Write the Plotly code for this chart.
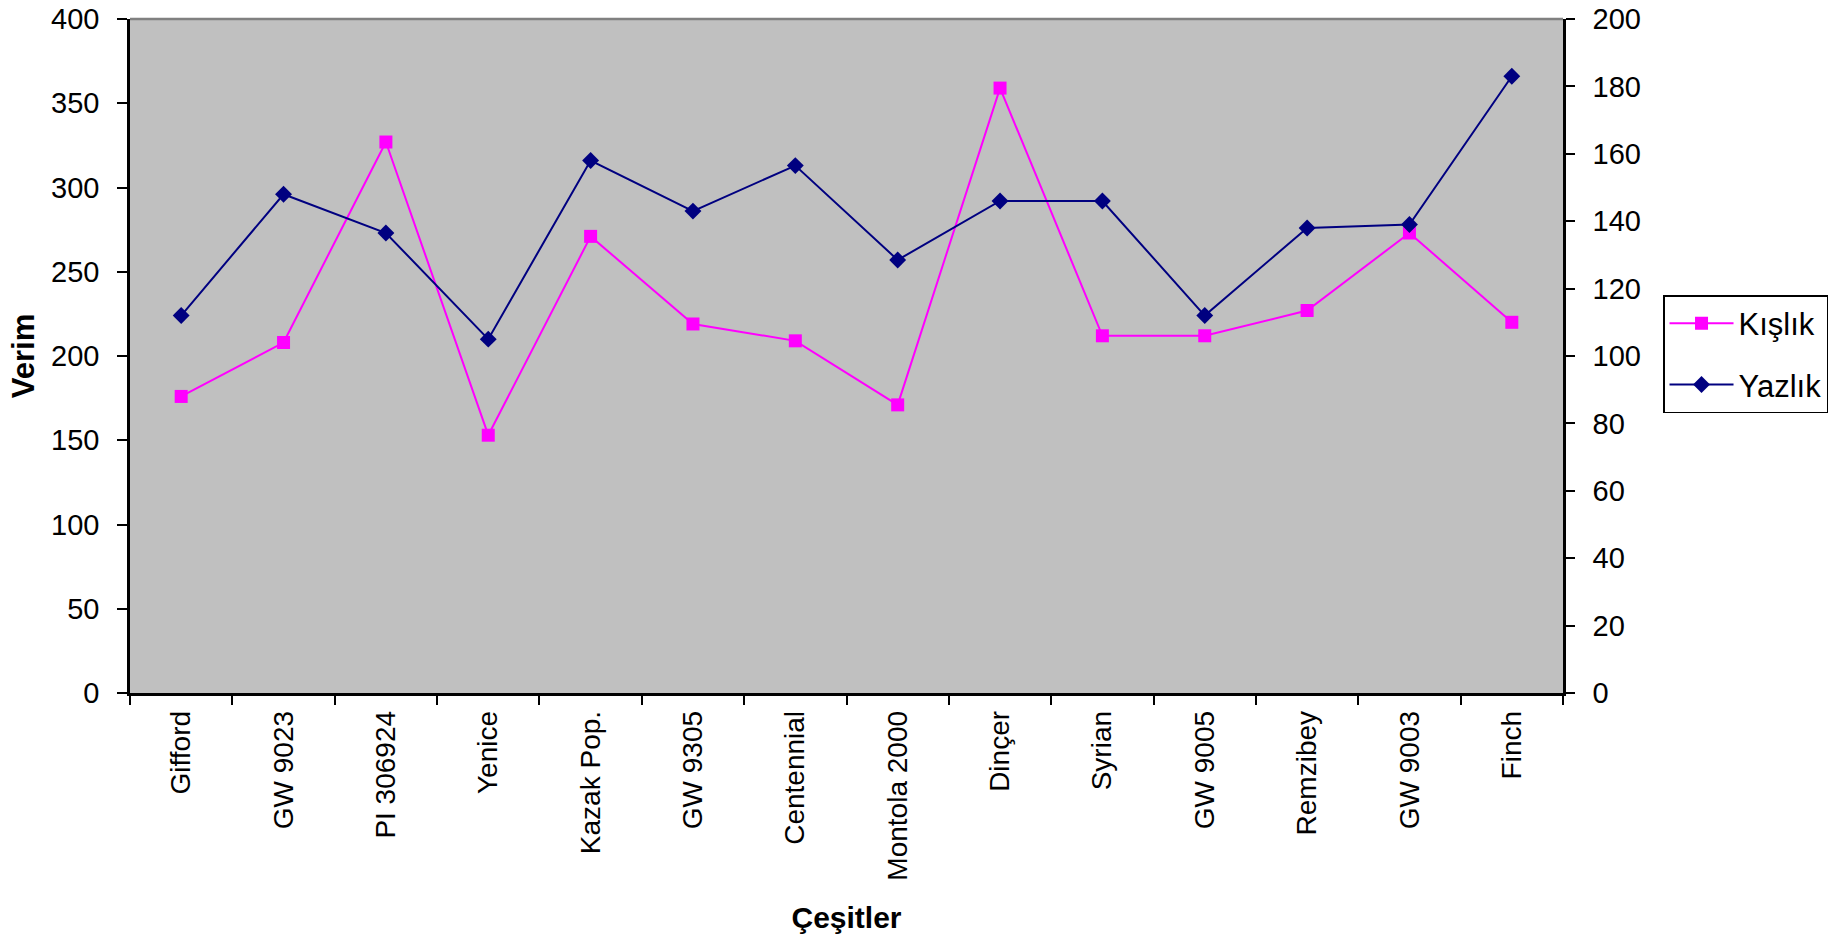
import plotly.graph_objects as go

# Varieties (çeşitler) and yields for the two sowing seasons
cesitler = ["Gifford", "GW 9023", "PI 306924", "Yenice", "Kazak Pop.", "GW 9305",
            "Centennial", "Montola 2000", "Dinçer", "Syrian", "GW 9005", "Remzibey",
            "GW 9003", "Finch"]
kislik = [176, 208, 327, 153, 271, 219, 209, 171, 359, 212, 212, 227, 273, 220]
yazlik = [112, 148, 136.5, 105, 158, 143, 156.5, 128.5, 146, 146, 112, 138, 139, 183]

left_ticks = list(range(0, 401, 50))
right_ticks = list(range(0, 201, 20))

FONT = "Liberation Sans, Arial, sans-serif"
BLACK = "#000000"

fig = go.Figure()

fig.add_trace(go.Scatter(
    x=cesitler, y=kislik, name="Kışlık", mode="lines+markers",
    line=dict(color="#FF00FF", width=2),
    marker=dict(symbol="square", size=13, color="#FF00FF"),
    yaxis="y", legendgroup="k",
))
fig.add_trace(go.Scatter(
    x=cesitler, y=yazlik, name="Yazlık", mode="lines+markers",
    line=dict(color="#000080", width=2),
    marker=dict(symbol="diamond", size=13, color="#000080"),
    yaxis="y2", legendgroup="y",
))

tick_font = dict(family=FONT, size=29, color=BLACK)

fig.update_layout(
    width=1844, height=945,
    margin=dict(l=130, r=281, t=19, b=252, autoexpand=False),
    paper_bgcolor="white",
    plot_bgcolor="#C0C0C0",
    font=dict(family=FONT, size=29, color=BLACK),
    showlegend=True,
    legend=dict(
        x=1.0698, y=0.5905, xanchor="left", yanchor="top",
        bgcolor="white", bordercolor=BLACK, borderwidth=1.5,
        font=dict(family=FONT, size=31, color=BLACK),
        itemwidth=64, tracegroupgap=18,
    ),
    xaxis=dict(
        type="category", categoryorder="array", categoryarray=cesitler,
        range=[-0.5, len(cesitler) - 0.5], automargin=False,
        showline=True, linecolor=BLACK, linewidth=2.5,
        ticks="outside", tickson="boundaries", ticklen=9, tickwidth=2, tickcolor=BLACK,
        tickangle=-90, tickfont=dict(family=FONT, size=28, color=BLACK),
        ticklabelstandoff=4,
        showgrid=False, zeroline=False,
        title=dict(text="<b>Çeşitler</b>", font=dict(family=FONT, size=30, color=BLACK),
                   standoff=28),
    ),
    xaxis2=dict(
        overlaying="x", anchor="y", side="bottom", automargin=False,
        range=[-0.5, len(cesitler) - 0.5], tick0=-0.5, dtick=1,
        ticks="inside", ticklen=8, tickwidth=2, tickcolor=BLACK,
        showticklabels=False, showline=False, showgrid=False, zeroline=False,
    ),
    yaxis=dict(
        range=[0, 400], tickvals=left_ticks, automargin=False,
        showline=True, linecolor=BLACK, linewidth=2.5,
        ticks="outside", ticklen=10, tickwidth=2, tickcolor=BLACK,
        tickfont=tick_font, ticklabelstandoff=12,
        showgrid=False, zeroline=False,
        title=dict(text="<b>Verim</b>", font=dict(family=FONT, size=31, color=BLACK),
                   standoff=8),
    ),
    yaxis2=dict(
        range=[0, 200], tickvals=right_ticks, overlaying="y", side="right", anchor="x",
        automargin=False,
        showline=True, linecolor=BLACK, linewidth=2.5,
        ticks="outside", ticklen=9, tickwidth=2, tickcolor=BLACK,
        tickfont=tick_font, ticklabelstandoff=12,
        showgrid=False, zeroline=False,
    ),
    yaxis3=dict(
        range=[0, 400], tickvals=left_ticks, overlaying="y", side="left", anchor="x",
        automargin=False,
        ticks="inside", ticklen=7, tickwidth=2, tickcolor=BLACK,
        showticklabels=False, showline=False, showgrid=False, zeroline=False,
    ),
    yaxis4=dict(
        range=[0, 200], tickvals=right_ticks, overlaying="y", side="right", anchor="x",
        automargin=False,
        ticks="inside", ticklen=9, tickwidth=2, tickcolor=BLACK,
        showticklabels=False, showline=False, showgrid=False, zeroline=False,
    ),
    shapes=[dict(type="line", xref="paper", yref="paper", x0=0, x1=1, y0=1, y1=1,
                 line=dict(color="#808080", width=2.5), layer="below")],
)

fig.write_html("out.html")
